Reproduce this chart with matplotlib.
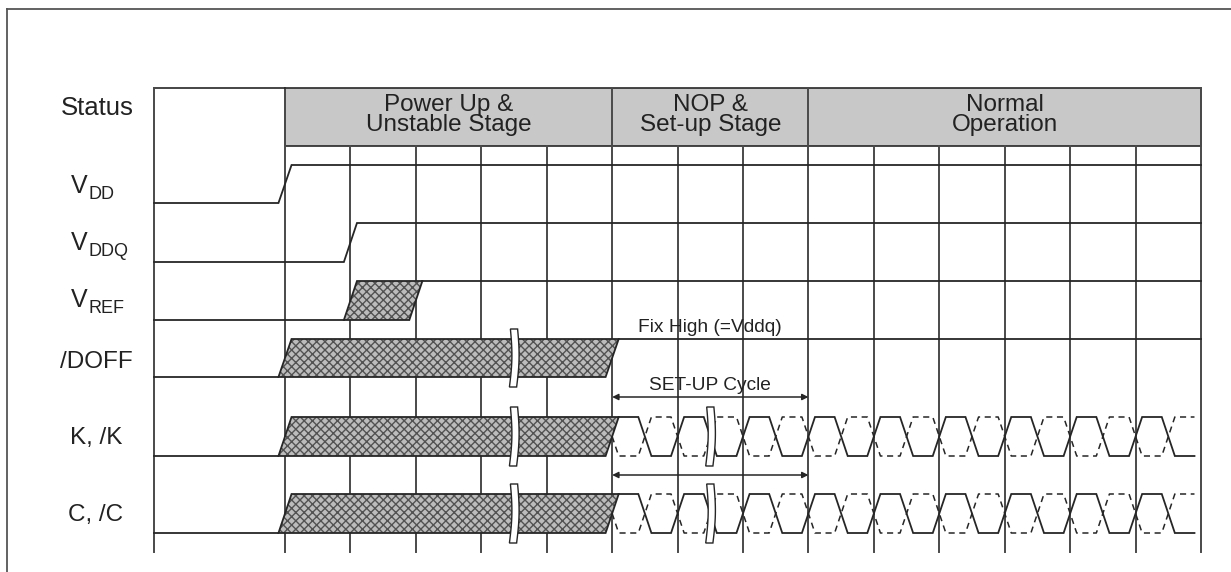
import numpy as np
import matplotlib.pyplot as plt
from matplotlib.patches import Polygon, Rectangle

plt.rcParams['font.family'] = ['Liberation Sans', 'DejaVu Sans']
plt.rcParams['hatch.linewidth'] = 1.0

# timing grid: one column = one clock period
n_cols = 14
label_left = -2
stages = ['Power Up &\nUnstable Stage', 'NOP &\nSet-up Stage', 'Normal\nOperation']
stage_edges = [0, 5, 8, 14]

row_labels = ['V', 'V', 'V', '/DOFF', 'K, /K', 'C, /C']
row_subs = ['DD', 'DDQ', 'REF', '', '', '']
row_high = [165, 223, 281, 339, 417, 494]
row_low = [203, 262, 320, 377, 456, 533]
label_y = [186, 243, 300, 362, 438, 515]

vdd_rise = 0
vddq_rise = 1
vref_window = (1, 2)
unstable_window = (0, 5)
clock_start = 5
clock_end = 13.9
half_period = 0.5
edge = 0.2
break_unstable = 3.5
break_clock = 6.5
setup_cycle = (5, 8)

header_top, header_bottom, grid_bottom = 88, 146, 552

LINE = '#262626'
GRID = '#4a4a4a'
TXT = '#222222'
col_px = 65.43

fig = plt.figure(figsize=(12.31, 5.72), dpi=100)
ax = fig.add_axes([0, 0, 1, 1])
ax.set_xlim(-285 / col_px, 946 / col_px)
ax.set_ylim(572, 0)
ax.axis('off')

# outer frame (top and left only visible)
x0, x1 = ax.get_xlim()
fx = x0 + 7 / col_px
ax.plot([fx, x1 + 1], [8.5, 8.5], color='#555555', lw=1.3)
ax.plot([fx, fx], [8.5, 580], color='#555555', lw=1.3)

# header
ax.add_patch(Rectangle((0, header_top), n_cols, header_bottom - header_top,
                       fc='#c8c8c8', ec=LINE, lw=1.2, zorder=1))
for name, a, b in zip(stages, stage_edges[:-1], stage_edges[1:]):
    ax.text((a + b) / 2, 115, name, ha='center', va='center', fontsize=17.5,
            linespacing=0.9, color=TXT)
ax.text(-2.87, 108, 'Status', ha='center', va='center', fontsize=18.5, color=TXT)
ax.plot([label_left, 0], [header_top, header_top], color=LINE, lw=1.2)
ax.plot([label_left, label_left], [header_top, grid_bottom], color=GRID, lw=1.4)

# grid
for c in range(n_cols + 1):
    top = header_top if c in stage_edges else header_bottom
    ax.plot([c, c], [top, grid_bottom], color=GRID, lw=1.4, zorder=1)

# row labels
v_right = (88 - 285) / col_px
for lab, sub, y in zip(row_labels, row_subs, label_y):
    if sub:
        ax.text(v_right, y, lab, ha='right', va='center', fontsize=18, color=TXT)
        ax.text(v_right + 0.01, y + 8.5, sub, ha='left', va='center', fontsize=13, color=TXT)
    else:
        ax.text(-2.89, y, lab, ha='center', va='center', fontsize=17.5, color=TXT)


def line(xs, ys, **kw):
    ax.plot(xs, ys, color=LINE, lw=1.3, zorder=3, solid_joinstyle='miter', **kw)


def hatch(a, b, hi, lo):
    pts = [(a - edge / 2, lo), (a + edge / 2, hi), (b + edge / 2, hi), (b - edge / 2, lo)]
    ax.add_patch(Polygon(pts, closed=True, fc='#bcbcbc', ec='#525252', hatch='xxxx',
                         lw=0, zorder=2))
    ax.add_patch(Polygon(pts, closed=True, fill=False, ec=LINE, lw=1.3, zorder=3))


def break_mark(xc, hi, lo):
    t = np.linspace(0, 1, 30)
    ys = (hi - 10) + t * (lo - hi + 20)
    bulge = 0.03 * np.sin(np.pi * t) - 0.015 * t
    left = np.column_stack([xc - 0.055 + bulge, ys])
    right = np.column_stack([xc + 0.055 + bulge, ys])[::-1]
    ax.add_patch(Polygon(np.vstack([left, right]), closed=True, fc='white',
                         ec=LINE, lw=1.0, zorder=5))


def clock(hi, lo, start, end):
    mid = (hi + lo) / 2
    ts = np.arange(start + half_period, end, half_period)
    lv = [hi, lo]
    sx, sy = [start + edge / 2], [hi]
    dx, dy = [start, start + edge / 2], [mid, lo]
    for i, t in enumerate(ts):
        cur, nxt = lv[i % 2], lv[(i + 1) % 2]
        sx += [t - edge / 2, t + edge / 2]
        sy += [cur, nxt]
        dx += [t - edge / 2, t + edge / 2]
        dy += [nxt, cur]
    sx.append(end)
    sy.append(sy[-1])
    dx.append(end)
    dy.append(dy[-1])
    line(sx, sy)
    ax.plot(dx, dy, color=LINE, lw=1.1, ls=(0, (4, 3)), zorder=3)


# V_DD, V_DDQ
for i, r in enumerate([vdd_rise, vddq_rise]):
    line([label_left, r - edge / 2, r + edge / 2, n_cols],
         [row_low[i], row_low[i], row_high[i], row_high[i]])

# V_REF
hi, lo = row_high[2], row_low[2]
line([label_left, vref_window[0] - edge / 2], [lo, lo])
hatch(vref_window[0], vref_window[1], hi, lo)
line([vref_window[1] + edge / 2, n_cols], [hi, hi])

# /DOFF
hi, lo = row_high[3], row_low[3]
line([label_left, unstable_window[0] - edge / 2], [lo, lo])
hatch(unstable_window[0], unstable_window[1], hi, lo)
line([unstable_window[1] + edge / 2, n_cols], [hi, hi])
break_mark(break_unstable, hi, lo)
ax.text(6.5, 327, 'Fix High (=Vddq)', ha='center', va='center', fontsize=13.8, color=TXT)

# K and C clocks
for i in (4, 5):
    hi, lo = row_high[i], row_low[i]
    line([label_left, unstable_window[0] - edge / 2], [lo, lo])
    hatch(unstable_window[0], unstable_window[1], hi, lo)
    clock(hi, lo, clock_start, clock_end)
    break_mark(break_unstable, hi, lo)
    break_mark(break_clock, hi, lo)

# set-up cycle arrows
for y in (397, 475):
    ax.annotate('', xy=(setup_cycle[0], y), xytext=(setup_cycle[1], y),
                arrowprops=dict(arrowstyle='<|-|>', mutation_scale=9, lw=1.1,
                                color=LINE, shrinkA=0, shrinkB=0), zorder=4)
ax.text(6.5, 385, 'SET-UP Cycle', ha='center', va='center', fontsize=13.8, color=TXT)

fig.savefig('out.png', dpi=100)
